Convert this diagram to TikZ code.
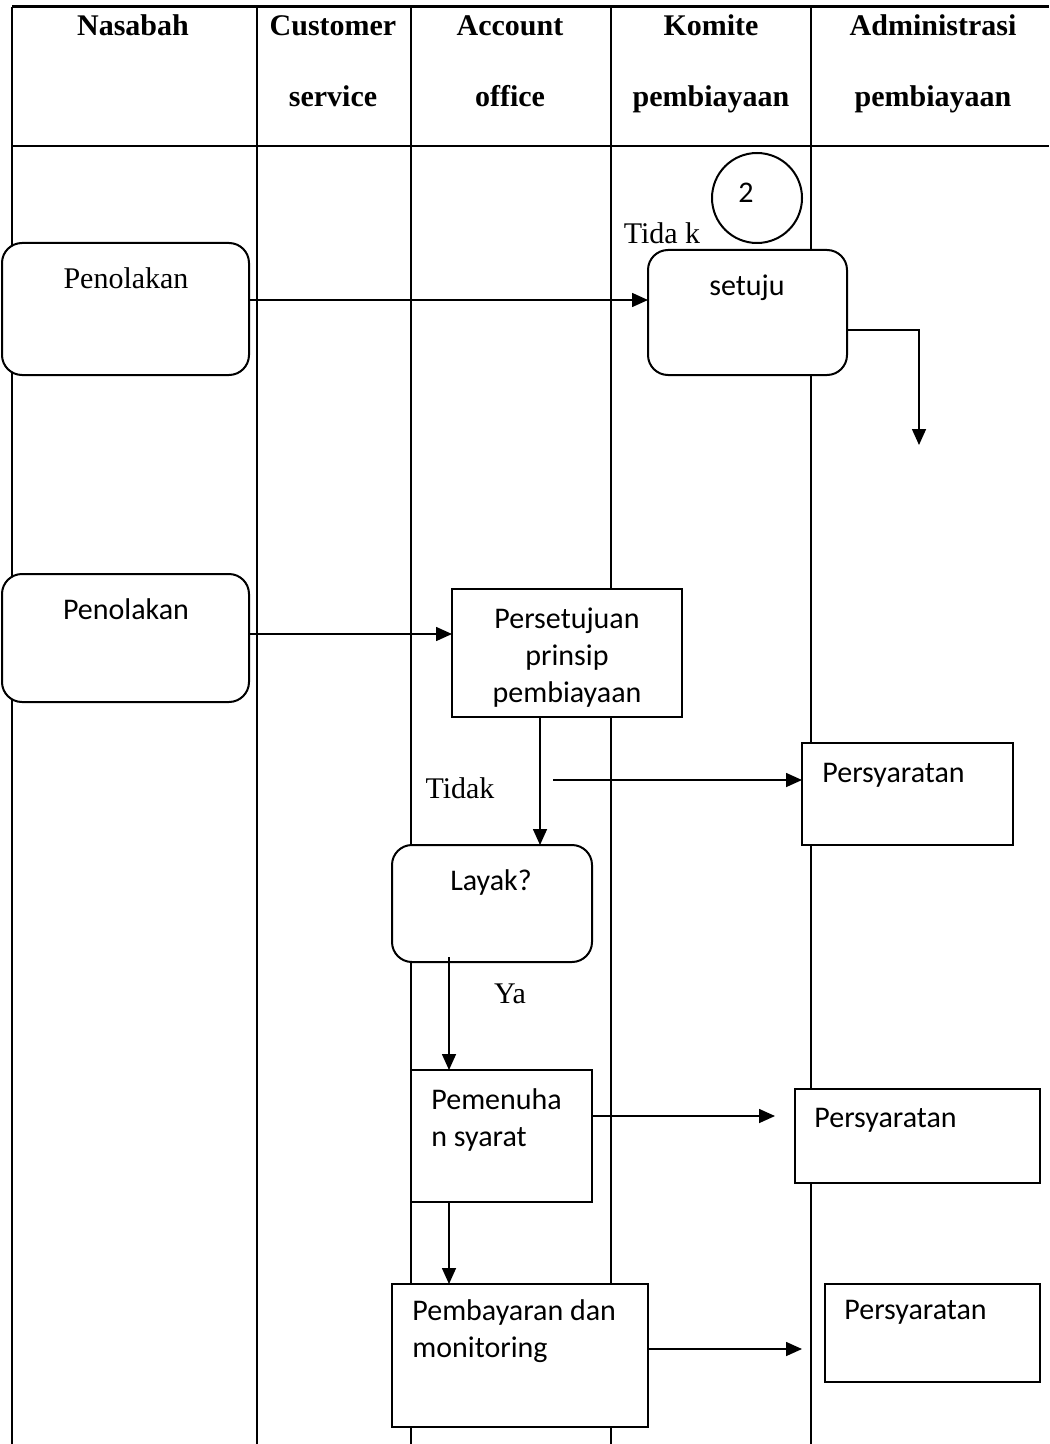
\documentclass[tikz,border=0pt]{standalone}
\usepackage{fontspec}
\setmainfont{Liberation Serif}
\newfontfamily\calibri{Carlito}
\usetikzlibrary{arrows.meta,positioning}

\begin{document}
\begin{tikzpicture}[x=0.5pt,y=-0.5pt,>={Triangle[length=8pt,width=7pt]},
    lane/.style={line width=1pt},
    head/.style={anchor=base,font=\fontsize{15}{18}\selectfont\bfseries},
    roundbox/.style={draw,fill=white,line width=1pt,rounded corners=10pt,
                     anchor=north west,inner sep=0pt,outer sep=0pt},
    plainbox/.style={draw,fill=white,line width=1pt,
                     anchor=north west,inner sep=0pt,outer sep=0pt},
    sans/.style={font=\calibri\fontsize{15}{18.5}\selectfont,inner sep=0pt},
    serif/.style={font=\fontsize{15}{18}\selectfont,inner sep=0pt},
    flow/.style={->,line width=0.8pt}]

  \useasboundingbox (0,0) rectangle (1049,1444);

  % swimlanes
  \draw[line width=1.5pt] (12,7) -- (1049,7);
  \draw[lane] (12,146) -- (1049,146);
  \foreach \x in {12,257,411,611,811}
    \draw[lane] (\x,7) -- (\x,1444);

  % lane headers
  \node[head] (nasabah)  at (133,36)  {Nasabah};
  \node[head] (cs1)      at (333,36)  {Customer};
  \node[head] (cs2)      at (333,107) {service};
  \node[head] (ao1)      at (510,36)  {Account};
  \node[head] (ao2)      at (510,107) {office};
  \node[head] (komite1)  at (711,36)  {Komite};
  \node[head] (komite2)  at (711,107) {pembiayaan};
  \node[head] (admin1)   at (933,36)  {Administrasi};
  \node[head] (admin2)   at (933,107) {pembiayaan};

  % boxes
  \node[roundbox,minimum width=123.5pt,minimum height=66pt] (tolak1) at (2,243) {};
  \node[roundbox,minimum width=99.5pt,minimum height=62.5pt] (setuju) at (648,250) {};
  \node[roundbox,minimum width=123.5pt,minimum height=64pt] (tolak2) at (2,574) {};
  \node[plainbox,minimum width=115pt,minimum height=64pt] (prinsip) at (452,589) {};
  \node[plainbox,minimum width=105.5pt,minimum height=51pt] (syarat1) at (802,743) {};
  \node[roundbox,minimum width=100pt,minimum height=58.5pt] (layak) at (392,845) {};
  \node[plainbox,minimum width=90.5pt,minimum height=66pt] (penuhi) at (411,1070) {};
  \node[plainbox,minimum width=122.5pt,minimum height=47pt] (syarat2) at (795,1089) {};
  \node[plainbox,minimum width=128pt,minimum height=71.5pt] (bayar) at (392,1284) {};
  \node[plainbox,minimum width=107.5pt,minimum height=49pt] (syarat3) at (825,1284) {};
  \node[draw,circle,line width=1pt,minimum size=45pt] (sambung) at (757,198) {};

  % texts
  \node[sans] (sambungtxt) at (746,193) {2};
  \node[serif] (tolak1txt) at (126,278) {Penolakan};
  \node[serif] (tidak1) at (662,233) {Tida k};
  \node[sans] (setujutxt) at (747,288) {setuju};
  \node[sans] (tolak2txt) at (126,609) {Penolakan};
  \node[sans,align=center] (prinsiptxt) at (567,658) {Persetujuan\\prinsip\\pembiayaan};
  \node[sans,anchor=west] (syarat1txt) at (822,775) {Persyaratan};
  \node[serif] (tidak2) at (460,788) {Tidak};
  \node[sans] (layaktxt) at (491,882) {Layak?};
  \node[serif] (ya) at (510,994) {Ya};
  \node[sans,anchor=west,align=left] (penuhitxt) at (431,1120) {Pemenuha\\n syarat};
  \node[sans,anchor=west] (syarat2txt) at (814,1120) {Persyaratan};
  \node[sans,anchor=west,align=left] (bayartxt) at (412,1331) {Pembayaran dan\\monitoring};
  \node[sans,anchor=west] (syarat3txt) at (844,1312) {Persyaratan};

  % flows
  \coordinate (turun) at (919,445);
  \coordinate (tidakawal) at (553,780);
  \coordinate (yaawal) at (449,957);
  \coordinate (syarat2masuk) at (775,1116);
  \coordinate (syarat3masuk) at (802,1349);
  \draw[flow] (tolak1.east |- 0,300) -- (setuju.west |- 0,300);
  \draw[flow] (setuju.east |- 0,330) -| (turun);
  \draw[flow] (tolak2.east |- 0,634) -- (prinsip.west |- 0,634);
  \draw[flow] (prinsip.south -| 540,0) -- (layak.north -| 540,0);
  \draw[flow] (tidakawal) -- (syarat1.west |- tidakawal);
  \draw[flow] (yaawal) -- (penuhi.north -| yaawal);
  \draw[flow] (penuhi.east |- syarat2masuk) -- (syarat2masuk);
  \draw[flow] (penuhi.south -| yaawal) -- (bayar.north -| yaawal);
  \draw[flow] (bayar.east |- syarat3masuk) -- (syarat3masuk);
\end{tikzpicture}
\end{document}
